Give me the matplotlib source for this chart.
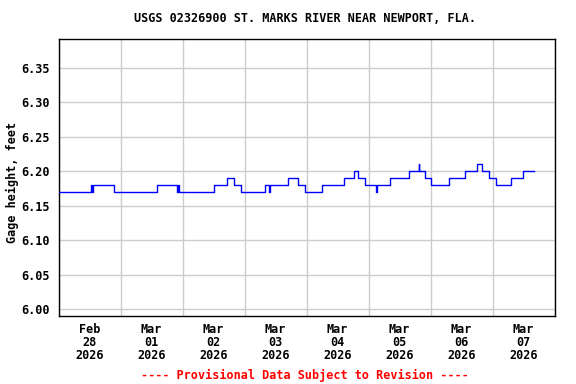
import matplotlib
matplotlib.use("Agg")
import matplotlib.pyplot as plt
import numpy as np

# Change points of the gage height record (hours after Feb 28 00:00, feet)
change_hours = [0.0, 12.6, 12.9, 13.3, 21.4, 38.0, 46.0, 46.3, 46.55, 60.1, 65.1, 67.9,
                70.7, 79.9, 81.4, 81.9, 89.0, 92.6, 95.6, 101.9, 110.7, 114.3, 116.0,
                118.5, 123.0, 123.25, 128.4, 135.5, 139.4, 139.65, 141.7, 144.3, 151.1,
                157.4, 162.1, 163.9, 166.6, 169.2, 175.2, 179.7, 183.9]
gage_height = [6.17, 6.18, 6.17, 6.18, 6.17, 6.18, 6.17, 6.18, 6.17, 6.18, 6.19, 6.18,
               6.17, 6.18, 6.17, 6.18, 6.19, 6.18, 6.17, 6.18, 6.19, 6.20, 6.19,
               6.18, 6.17, 6.18, 6.19, 6.20, 6.21, 6.20, 6.19, 6.18, 6.19,
               6.20, 6.21, 6.20, 6.19, 6.18, 6.19, 6.20, 6.20]

day_labels = ["Feb\n28\n2026", "Mar\n01\n2026", "Mar\n02\n2026", "Mar\n03\n2026",
              "Mar\n04\n2026", "Mar\n05\n2026", "Mar\n06\n2026", "Mar\n07\n2026"]
y_ticks = [6.00, 6.05, 6.10, 6.15, 6.20, 6.25, 6.30, 6.35]

title = "USGS 02326900 ST. MARKS RIVER NEAR NEWPORT, FLA."
ylabel = "Gage height, feet"
footer = "---- Provisional Data Subject to Revision ----"

FONT = "DejaVu Sans Mono"
FS = 8.5

fig = plt.figure(figsize=(5.76, 3.84), dpi=100)
ax = fig.add_axes([58.5/576, 1-316/384, (554.5-58.5)/576, (316-39.3)/384])

x_days = np.array(change_hours) / 24.0
ax.step(x_days, gage_height, where="post", color="#0000FF", lw=1.0, zorder=3)

ax.set_xlim(0, 8)
ax.set_ylim(5.9903, 6.3911)

ax.set_xticks(np.arange(0, 9, 1))
ax.set_xticklabels([])
ax.set_xticks(np.arange(len(day_labels)) + 0.5, minor=True)
ax.set_xticklabels(day_labels, minor=True, fontfamily=FONT, fontweight="bold",
                   fontsize=FS, linespacing=1.0)
ax.set_yticks(y_ticks)
ax.set_yticklabels([f"{v:.2f}" for v in y_ticks], fontfamily=FONT,
                   fontweight="bold", fontsize=FS)
ax.tick_params(axis="both", which="both", length=0)
ax.tick_params(axis="x", which="minor", pad=5)
ax.tick_params(axis="y", pad=6)

ax.grid(True, which="major", color="#cccccc", lw=1.0, zorder=0)
for s in ax.spines.values():
    s.set_color("black")
    s.set_linewidth(1.0)

fig.text(12/576, 1-182.5/384, ylabel, rotation=90, ha="center", va="center",
         fontfamily=FONT, fontweight="bold", fontsize=FS)

fig.text(305/576, 1-19/384, title, ha="center", va="center", fontfamily=FONT,
         fontweight="bold", fontsize=FS)
fig.text(305/576, 1-375/384, footer, ha="center", va="center", fontfamily=FONT,
         fontweight="bold", fontsize=FS, color="#FF0000")

fig.savefig("out.png", dpi=100)
